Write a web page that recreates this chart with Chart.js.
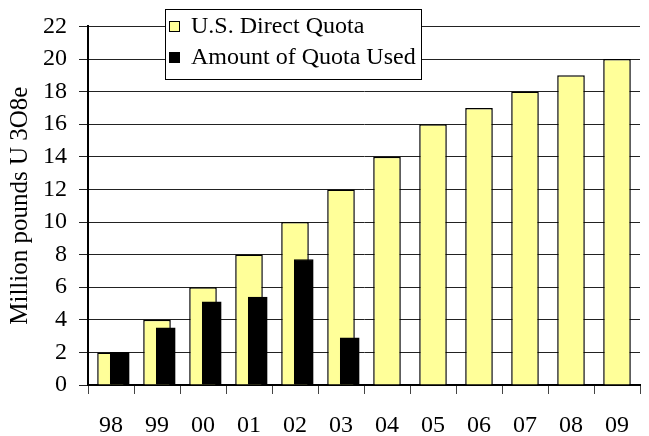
<!DOCTYPE html>
<html>
<head>
<meta charset="utf-8">
<script src="https://cdn.jsdelivr.net/npm/chart.js@4/dist/chart.umd.min.js"></script>
<style>
  html, body { margin: 0; padding: 0; background: #ffffff; }
  #wrap { width: 649px; height: 436px; position: relative; }
</style>
</head>
<body>
<div id="wrap"><canvas id="c" width="649" height="436"></canvas></div>
<script>
// ---- data ----
const years = ['98', '99', '00', '01', '02', '03', '04', '05', '06', '07', '08', '09'];
const directQuota = [2, 4, 6, 8, 10, 12, 14, 16, 17, 18, 19, 20];
const quotaUsed = [2.0, 3.5, 5.1, 5.4, 7.7, 2.9];
const seriesLabels = ['U.S. Direct Quota', 'Amount of Quota Used'];
const yTitle = 'Million pounds U 3O8e';
const yMin = 0, yMax = 22, yStep = 2;

const SERIF = "'Liberation Serif', 'Times New Roman', serif";
const YELLOW = '#FFFF99';
const usedShift = 0.19; // black bars drawn offset to the right of each category centre

const usedPoints = quotaUsed.map((v, i) => ({ x: i, y: v }));

// custom boxed legend (drawn on top, white background, covers gridlines)
const boxLegend = {
  id: 'boxLegend',
  afterDraw(chart) {
    const ctx = chart.ctx;
    const ds = chart.data.datasets;
    const bx = 165.5, by = 9.5, bw = 256, bh = 70;
    ctx.save();
    ctx.fillStyle = '#ffffff';
    ctx.fillRect(bx, by, bw, bh);
    ctx.strokeStyle = '#000000';
    ctx.lineWidth = 1;
    ctx.strokeRect(bx, by, bw, bh);
    ctx.font = '24px ' + SERIF;
    ctx.textBaseline = 'alphabetic';
    ctx.textAlign = 'left';
    const rows = [{ sy: 21, ty: 33 }, { sy: 52, ty: 64 }];
    ds.forEach((d, i) => {
      const r = rows[i];
      ctx.fillStyle = d.backgroundColor;
      ctx.fillRect(169.5, r.sy + 0.5, 10, 10);
      ctx.strokeStyle = '#000';
      ctx.lineWidth = 1;
      ctx.strokeRect(169.5, r.sy + 0.5, 10, 10);
      ctx.fillStyle = '#000';
      ctx.fillText(d.label, 191, r.ty);
    });
    ctx.restore();
  }
};

new Chart(document.getElementById('c'), {
  type: 'bar',
  data: {
    labels: years,
    datasets: [
      {
        label: seriesLabels[0],
        data: directQuota,
        backgroundColor: YELLOW,
        borderColor: '#000000',
        borderWidth: 1.5,
        xAxisID: 'x',
        grouped: false,
        categoryPercentage: 1,
        barPercentage: 0.6,
        order: 1
      },
      {
        label: seriesLabels[1],
        data: usedPoints,
        backgroundColor: '#000000',
        borderColor: '#000000',
        borderWidth: 1,
        xAxisID: 'x2',
        grouped: false,
        barThickness: 19,
        order: 0
      }
    ]
  },
  options: {
    responsive: false,
    animation: false,
    events: [],
    layout: { padding: { top: 23, right: 0, bottom: 0, left: 0 } },
    plugins: {
      legend: { display: false },
      tooltip: { enabled: false }
    },
    scales: {
      x: {
        type: 'category',
        offset: true,
        grid: { offset: true, drawOnChartArea: false, drawTicks: true, tickLength: 9, color: '#444', lineWidth: 1 },
        border: { color: '#000', width: 2 },
        ticks: { color: '#000', font: { family: SERIF, size: 24, lineHeight: 1 }, padding: 20, maxRotation: 0, autoSkip: false },
        afterFit(scale) { scale.height = 51; }
      },
      x2: {
        type: 'linear',
        display: false,
        offset: false,
        min: -0.5 - usedShift,
        max: years.length - 0.5 - usedShift,
        ticks: { stepSize: 1, includeBounds: false },
        afterFit(scale) { scale.height = 0; }
      },
      y: {
        min: yMin,
        max: yMax,
        ticks: { stepSize: yStep, autoSkip: false, color: '#000', font: { family: SERIF, size: 24 }, padding: 12 },
        grid: { color: '#222', lineWidth: 1, tickLength: 9, drawTicks: true },
        border: { color: '#000', width: 2 },
        title: { display: true, text: yTitle, color: '#000', font: { family: SERIF, size: 25 }, padding: { top: 5, bottom: 0 } },
        afterFit(scale) { scale.width = 88; }
      }
    }
  },
  plugins: [boxLegend]
});
</script>
</body>
</html>
